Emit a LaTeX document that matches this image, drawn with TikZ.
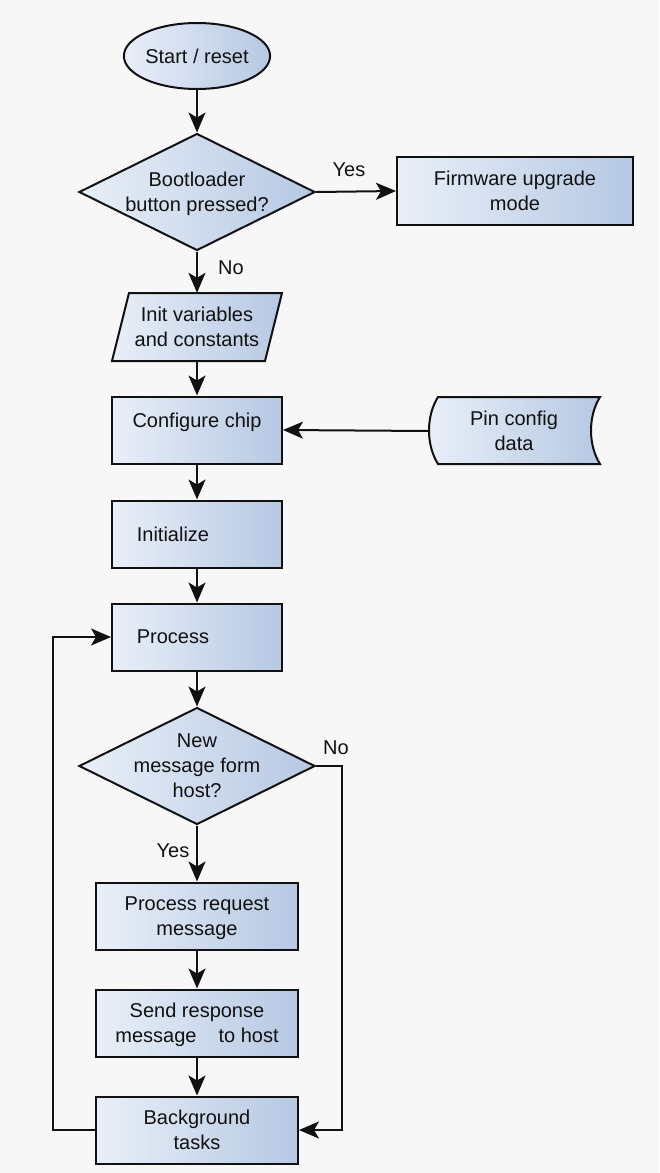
\documentclass[tikz,border=0pt]{standalone}
\usepackage{fontspec}
\setmainfont{Liberation Sans}
\usetikzlibrary{shapes.geometric,arrows.meta}
\definecolor{bgcol}{HTML}{F7F7F7}
\definecolor{boxl}{HTML}{E9EFF8}
\definecolor{boxr}{HTML}{B6C8E3}
\definecolor{ink}{HTML}{111111}
\begin{document}
\begin{tikzpicture}[x=1pt,y=-1pt,
  every node/.style={font=\fontsize{20}{25}\selectfont,align=center,text=ink,text depth=0pt},
  fill box/.style={draw=ink,line width=2pt,left color=boxl,right color=boxr},
  procbox/.style={fill box,rectangle,minimum width=170pt,minimum height=67pt},
  widebox/.style={procbox,minimum width=202pt},
  decision/.style={fill box,diamond,minimum width=236pt,minimum height=117pt,inner sep=0pt},
  flow/.style={draw=ink,line width=2pt,-{Stealth[length=20pt,width=17pt,inset=5pt]}}]
\fill[bgcol] (0,0) rectangle (659,1173);
% start and bootloader check
\node[fill box,ellipse,inner sep=0pt,minimum width=136pt,minimum height=66pt] (start) at (197,56) {Start / reset};
\node[decision] (boot) at (197,192) {};
\node (boottxt) at (197,192) {Bootloader\\button pressed?};
\node[procbox,minimum width=236pt,minimum height=68pt] (fw) at (515,191) {Firmware upgrade\\mode};
% init block
\path[fill box] (129,293) -- (282,293) -- (265,361) -- (112,361) -- cycle;
\node[minimum width=170pt,minimum height=68pt] (init) at (197,327) {Init variables\\and constants};
\node[procbox] (cfg) at (197,430) {\raisebox{10pt}[\height][\depth]{Configure chip}};
\path[fill box] (438,397) -- (600,397) .. controls (588,416) and (588,445) .. (600,464)
  -- (438,464) .. controls (426,445) and (426,416) .. (438,397) -- cycle;
\node[minimum width=170pt,minimum height=67pt] (pin) at (514,431) {Pin config\\data};
\node[procbox] (initz) at (197,534) {Initialize\hspace*{48pt}};
\node[procbox] (proc) at (197,637) {Process\hspace*{48pt}};
% message loop
\node[decision] (msg) at (197,766) {};
\node (msgtxt) at (197,766) {New\\message form\\host?};
\node[widebox] (req) at (197,916) {Process request\\message};
\node[widebox] (resp) at (197,1023) {Send response\\message\hspace{22pt}to host};
\node[widebox] (bg) at (197,1130) {Background\\tasks};
% connectors
\draw[flow] (start) -- (boot);
\draw[flow] (boot.east) -- (fw.west);
\draw[flow] (boot.south) -- (init.north);
\draw[flow] (init.south) -- (cfg.north);
\draw[flow] (pin.west) -- (cfg.east);
\draw[flow] (cfg) -- (initz);
\draw[flow] (initz) -- (proc);
\draw[flow] (proc.south) -- (msg.north);
\draw[flow] (msg.south) -- (req.north);
\draw[flow] (req) -- (resp);
\draw[flow] (resp) -- (bg);
\draw[flow] (bg.west) -- ++(-42,0) |- (proc.west);
\draw[flow] (msg.east) -- ++(26,0) |- (bg.east);
% branch labels
\node (yes1) at (349,170) {Yes};
\node (no1) at (231,268) {No};
\node (no2) at (336,748) {No};
\node (yes2) at (173,851) {Yes};
\end{tikzpicture}
\end{document}
